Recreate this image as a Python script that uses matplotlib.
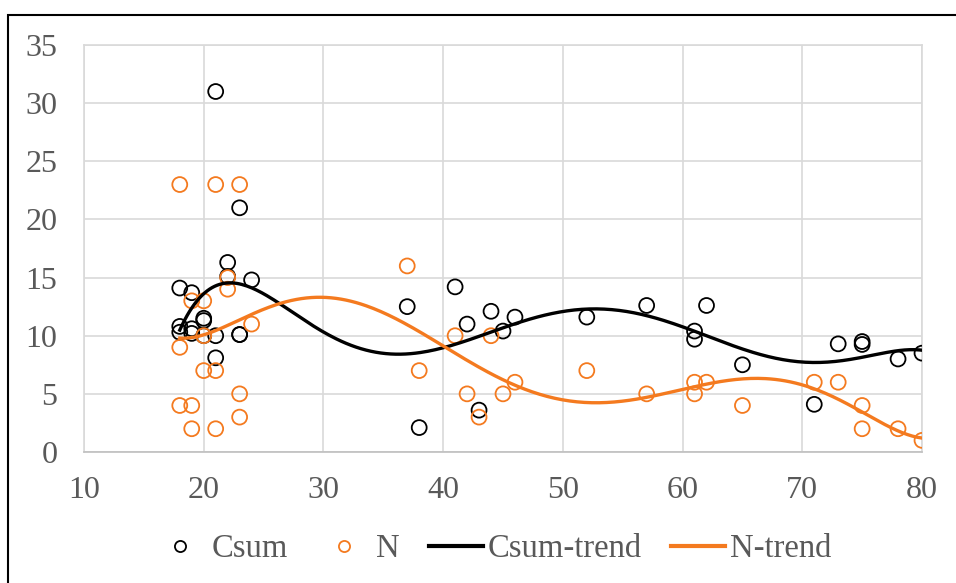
import matplotlib
matplotlib.use('Agg')
import matplotlib.pyplot as plt
import matplotlib.patches as mpatches
from matplotlib.lines import Line2D
import numpy as np

# Csum points (age, value); a few sit hidden under other circles
csum_x = [18, 18, 18, 19, 19, 19, 20, 20, 20, 21, 21, 21, 22, 22, 23, 23, 23, 24,
          37, 38, 41, 42, 43, 44, 45, 46, 52, 57, 61, 61, 62, 65,
          71, 73, 75, 75, 78, 80]
csum_y = [14.1, 10.8, 10.3, 13.7, 10.6, 10.2, 11.5, 11.3, 10.0, 31.0, 10.0, 8.1, 16.3, 15.1,
          21.0, 10.1, 10.1, 14.8,
          12.5, 2.1, 14.2, 11.0, 3.6, 12.1, 10.4, 11.6, 11.6, 12.6, 10.4, 9.7, 12.6, 7.5,
          4.1, 9.3, 9.5, 9.25, 8.0, 8.5]

# N points
n_x = [18, 18, 18, 19, 19, 19, 20, 20, 20, 21, 21, 21, 22, 22, 23, 23, 23, 24,
       37, 38, 41, 42, 43, 44, 45, 46, 52, 57, 61, 61, 62, 65, 71, 73, 75, 75, 78, 80]
n_y = [23, 9, 4, 13, 4, 2, 13, 10, 7, 23, 7, 2, 15, 14, 23, 5, 3, 11,
       16, 7, 10, 5, 3, 10, 5, 6, 7, 5, 6, 5, 6, 4, 6, 6, 4, 2, 2, 1]

x_ticks = [10, 20, 30, 40, 50, 60, 70, 80]
y_ticks = [0, 5, 10, 15, 20, 25, 30, 35]

BLACK = '#000000'
ORANGE = '#F47A1F'
GRID = '#d9d9d9'
TEXT = '#595959'

plt.rcParams['font.family'] = ['Liberation Serif', 'DejaVu Serif']

fig = plt.figure(figsize=(9.56, 5.83), dpi=100)
ax = fig.add_axes([84 / 956, 1 - 452 / 583, 838 / 956, 407 / 583])

# polynomial trend lines (order 6, like the spreadsheet trendline)
xs = np.linspace(min(csum_x), max(csum_x), 300)
p_c = np.polynomial.Polynomial.fit(csum_x, csum_y, 6)
p_n = np.polynomial.Polynomial.fit(n_x, n_y, 6)

ax.scatter(csum_x, csum_y, s=115, facecolors='none', edgecolors=BLACK, linewidths=1.3, zorder=3)
ax.scatter(n_x, n_y, s=115, facecolors='none', edgecolors=ORANGE, linewidths=1.3, zorder=3)
ax.plot(xs, p_c(xs), color=BLACK, lw=2.4, zorder=4)
ax.plot(xs, p_n(xs), color=ORANGE, lw=2.4, zorder=4)

ax.set_xlim(10, 80)
ax.set_ylim(0, 35)
ax.set_xticks(x_ticks)
ax.set_yticks(y_ticks)
ax.tick_params(length=0, labelsize=23, labelcolor=TEXT)
ax.tick_params(axis='x', pad=17)
ax.tick_params(axis='y', pad=19)
ax.grid(True, color=GRID, lw=1.2)
ax.set_axisbelow(True)
for side in ['top', 'right', 'left']:
    ax.spines[side].set_color(GRID)
    ax.spines[side].set_linewidth(1.2)
ax.spines['bottom'].set_color('#bfbfbf')
ax.spines['bottom'].set_linewidth(1.2)

handles = [
    Line2D([], [], ls='none', marker='o', markersize=8, mfc='none', mec=BLACK, mew=1.3),
    Line2D([], [], ls='none', marker='o', markersize=8, mfc='none', mec=ORANGE, mew=1.3),
    Line2D([], [], color=BLACK, lw=3),
    Line2D([], [], color=ORANGE, lw=3),
]
labels = ['Csum', 'N', 'Csum-trend', 'N-trend']
leg = fig.legend(handles, labels, loc='center', bbox_to_anchor=(492 / 956, 1 - 549 / 583),
                 ncol=4, frameon=False, fontsize=23.5, handlelength=1.65,
                 handletextpad=0.15, columnspacing=0.9)
for t in leg.get_texts():
    t.set_color(TEXT)

# outer chart border
fig.patches.append(mpatches.Rectangle((8 / 956, -0.05), 1.1, 1 - 15 / 583 + 0.05,
                                      transform=fig.transFigure, fill=False,
                                      edgecolor='black', lw=1.5))

fig.savefig('out.png', dpi=100)
